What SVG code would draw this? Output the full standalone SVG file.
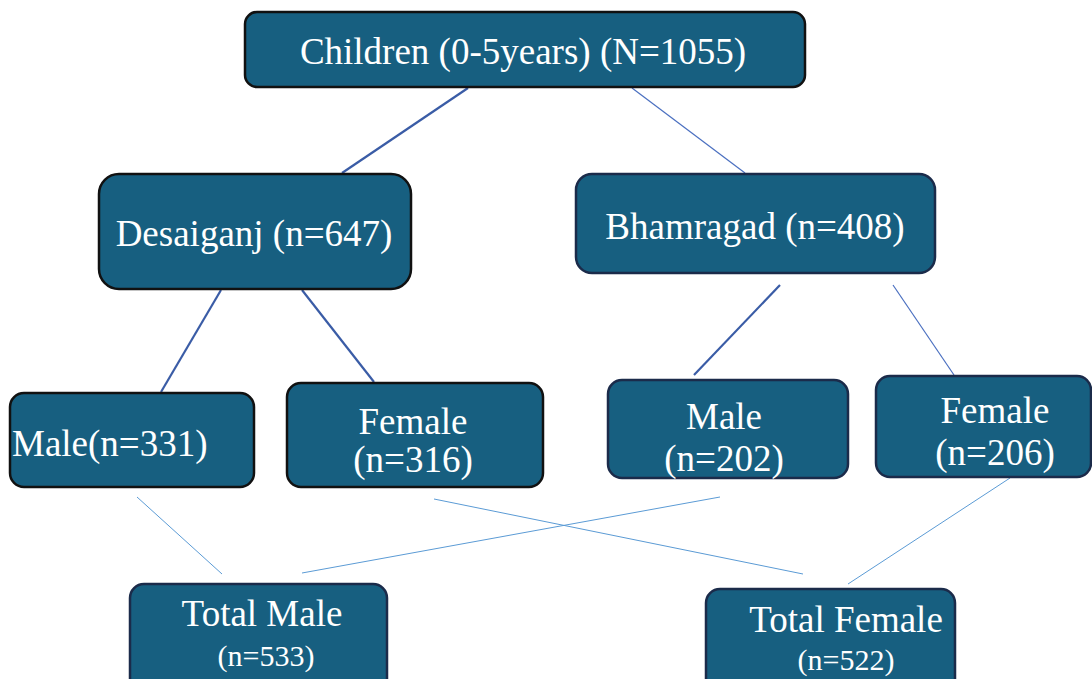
<svg xmlns="http://www.w3.org/2000/svg" width="1092" height="679" viewBox="0 0 1092 679">
<style>
.box{fill:#175f80;stroke:#111;stroke-width:2.5}
.box2{fill:#175f80;stroke:#1b2b4a;stroke-width:2.5}
text{font-family:"Liberation Serif","Times New Roman",serif;fill:#fff;text-anchor:middle}
.l{font-size:37px}
.m{font-size:30px}
.c1{stroke:#3a5ca6;stroke-width:2.2}
.c2{stroke:#4a6fc0;stroke-width:1.2}
.c3{stroke:#5b9bd5;stroke-width:1}
</style>
<g id="connectors" fill="none">
<line class="c1" x1="468" y1="88" x2="342" y2="173"/>
<line class="c2" x1="632" y1="88" x2="745" y2="173"/>
<line class="c1" x1="221" y1="290" x2="161" y2="392"/>
<line class="c1" x1="302" y1="290" x2="374" y2="382"/>
<line class="c1" x1="780" y1="285" x2="694" y2="375"/>
<line class="c2" x1="893" y1="285" x2="954" y2="375"/>
<line class="c3" x1="137" y1="497" x2="222" y2="574"/>
<line class="c3" x1="434" y1="499" x2="803" y2="574"/>
<line class="c3" x1="720" y1="497" x2="302" y2="573"/>
<line class="c3" x1="1010" y1="478" x2="848" y2="584"/>
</g>
<g id="root">
<rect class="box" x="245" y="12" width="560" height="75" rx="12"/>
<text class="l" x="523" y="64">Children (0-5years) (N=1055)</text>
</g>
<g id="desaiganj">
<rect class="box" x="99" y="174" width="312" height="115" rx="20"/>
<text class="l" x="254" y="246">Desaiganj (n=647)</text>
</g>
<g id="bhamragad">
<rect class="box2" x="576" y="174" width="359" height="99" rx="16"/>
<text class="l" x="755" y="239">Bhamragad (n=408)</text>
</g>
<g id="d-male">
<rect class="box" x="10" y="393" width="244" height="94" rx="14"/>
<text class="l" x="12" y="456" style="text-anchor:start">Male(n=331)</text>
</g>
<g id="d-female">
<rect class="box" x="287" y="383" width="256" height="104" rx="14"/>
<text class="l" x="413" y="434">Female</text>
<text class="l" x="413" y="472">(n=316)</text>
</g>
<g id="b-male">
<rect class="box2" x="608" y="380" width="240" height="98" rx="14"/>
<text class="l" x="724" y="429">Male</text>
<text class="l" x="724" y="471">(n=202)</text>
</g>
<g id="b-female">
<rect class="box2" x="876" y="376" width="215" height="101" rx="14"/>
<text class="l" x="995" y="423">Female</text>
<text class="l" x="995" y="465">(n=206)</text>
</g>
<g id="total-male">
<rect class="box2" x="130" y="584" width="257" height="110" rx="14"/>
<text class="l" x="262" y="626">Total Male</text>
<text class="m" x="266" y="666">(n=533)</text>
</g>
<g id="total-female">
<rect class="box2" x="706" y="589" width="249" height="105" rx="14"/>
<text class="l" x="846" y="632">Total Female</text>
<text class="m" x="846" y="670">(n=522)</text>
</g>
</svg>
